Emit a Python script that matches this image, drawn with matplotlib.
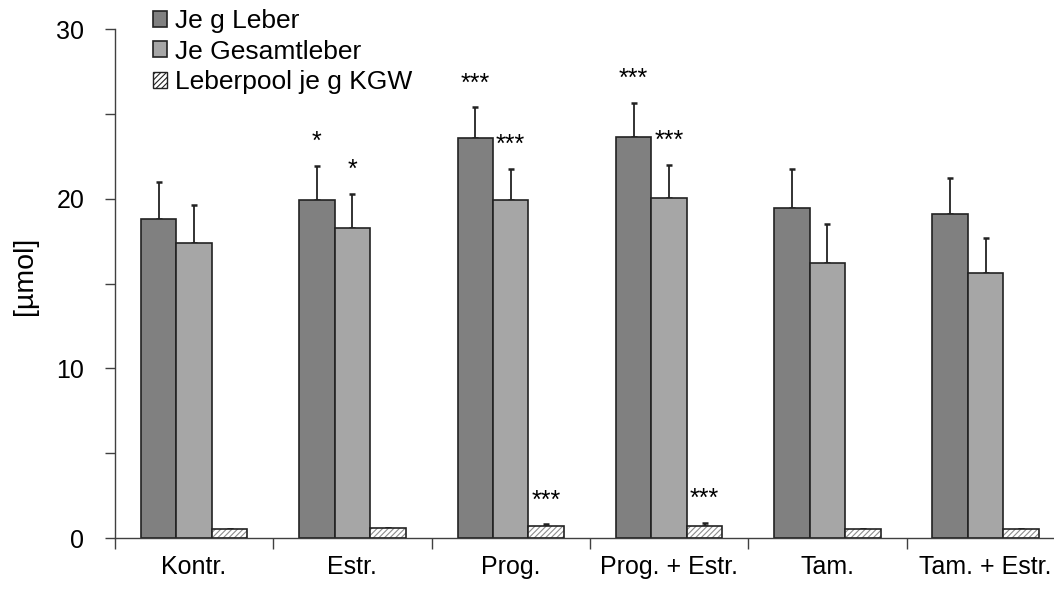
import numpy as np
import matplotlib
matplotlib.use('Agg')
import matplotlib.pyplot as plt
import matplotlib.patches as mpatches

plt.rcParams['font.family'] = ['Liberation Sans', 'DejaVu Sans']
plt.rcParams['hatch.linewidth'] = 0.8

groups = ['Kontr.', 'Estr.', 'Prog.', 'Prog. + Estr.', 'Tam.', 'Tam. + Estr.']

je_g_leber = [18.8, 19.95, 23.6, 23.65, 19.45, 19.1]
je_g_leber_err = [2.2, 2.0, 1.8, 2.0, 2.3, 2.1]

je_gesamtleber = [17.4, 18.3, 19.95, 20.05, 16.2, 15.6]
je_gesamtleber_err = [2.2, 2.0, 1.8, 1.95, 2.3, 2.1]

leberpool = [0.55, 0.6, 0.7, 0.68, 0.55, 0.52]
leberpool_err = [0.0, 0.0, 0.1, 0.22, 0.0, 0.0]

# significance marks per series
stars_leber = ['', '*', '***', '***', '', '']
stars_gesamt = ['', '*', '***', '***', '', '']
stars_pool = ['', '', '***', '***', '', '']

fig = plt.figure(figsize=(10.54, 5.9), dpi=100)
ax = fig.add_axes([0.109, 0.0881, 0.9013, 0.8627])

x = np.arange(len(groups)) + 0.5
w = 0.224
ekw = dict(ecolor='#222222', elinewidth=1.3, capsize=2.5, capthick=1.8)

b1 = ax.bar(x - w, je_g_leber, w, color='#808080', edgecolor='#222222',
            linewidth=1.2, label='Je g Leber', zorder=2)
ax.errorbar(x - w, je_g_leber, yerr=[np.zeros(6), je_g_leber_err],
            fmt='none', zorder=1, **ekw)

b2 = ax.bar(x, je_gesamtleber, w, color='#a6a6a6', edgecolor='#222222',
            linewidth=1.2, label='Je Gesamtleber', zorder=2)
ax.errorbar(x, je_gesamtleber, yerr=[np.zeros(6), je_gesamtleber_err],
            fmt='none', zorder=1, **ekw)

# hatch drawn in grey, outline in black on top
ax.bar(x + w, leberpool, w, color='white', edgecolor='#8c8c8c',
       hatch='//////', linewidth=0, zorder=2)
ax.bar(x + w, leberpool, w, fill=False, edgecolor='#222222',
       linewidth=1.2, zorder=3)
ax.errorbar(x + w, leberpool, yerr=[np.zeros(6), leberpool_err],
            fmt='none', zorder=1, **ekw)

for xs, vals, errs, marks in [(x - w, je_g_leber, je_g_leber_err, stars_leber),
                              (x, je_gesamtleber, je_gesamtleber_err, stars_gesamt),
                              (x + w, leberpool, leberpool_err, stars_pool)]:
    for xi, v, e, m in zip(xs, vals, errs, marks):
        if m:
            ax.annotate(m, (xi, v + e), xytext=(0, 12), textcoords='offset points',
                        ha='center', va='baseline', fontsize=18)

ax.set_xlim(0, 6)
ax.set_ylim(0, 30)
ax.set_yticks([0, 10, 20, 30])
ax.set_yticks([5, 15, 25], minor=True)
ax.set_xticks(np.arange(0, 7))
ax.set_xticklabels([])
ax.set_xticks(x, minor=True)
ax.set_xticklabels(groups, minor=True)

ax.tick_params(axis='y', which='both', direction='out', length=7, width=1,
               color='#404040', labelsize=18, pad=15)
ax.tick_params(axis='x', which='major', direction='out', length=8, width=1,
               color='#404040')
ax.tick_params(axis='x', which='minor', length=0, labelsize=18, pad=12)

for s in ['top', 'right']:
    ax.spines[s].set_visible(False)
for s in ['left', 'bottom']:
    ax.spines[s].set_color('#404040')
    ax.spines[s].set_linewidth(1)

fig.text(25 / 1054, 0.532, '[µmol]', rotation=90, ha='center', va='center',
         fontsize=20.5)

h3 = mpatches.Patch(facecolor='white', edgecolor='#222222', hatch='//////',
                    label='Leberpool je g KGW')
leg = fig.legend(handles=[b1, b2, h3], loc='upper left',
                 bbox_to_anchor=(0.145, 0.984), frameon=False, fontsize=19,
                 handlelength=0.55, handleheight=0.55, handletextpad=0.3,
                 labelspacing=0.24, borderpad=0, borderaxespad=0)

plt.savefig('out.png')
plt.close()
